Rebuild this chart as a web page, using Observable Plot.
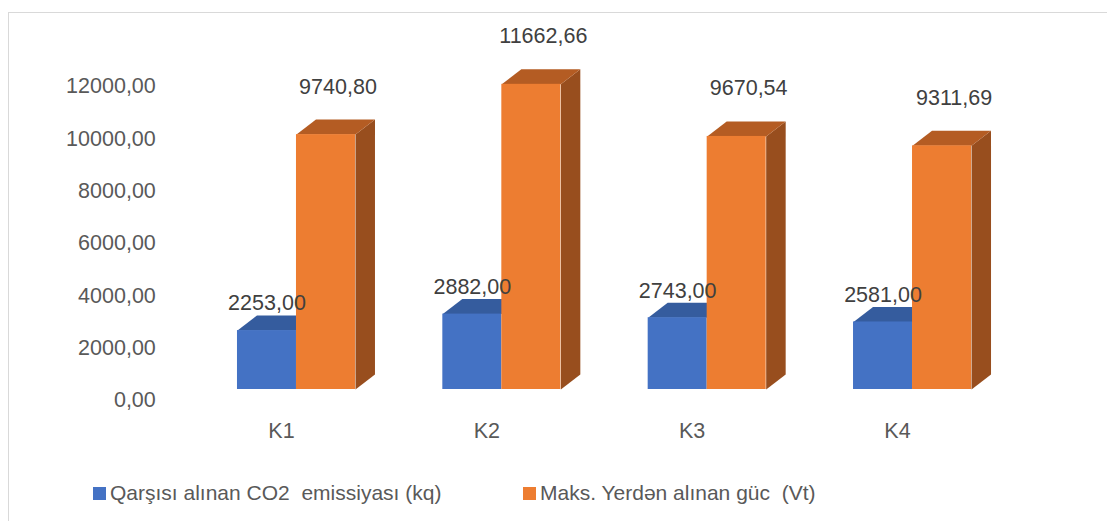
<!DOCTYPE html>
<html><head><meta charset="utf-8">
<script src="https://cdn.jsdelivr.net/npm/d3@7"></script>
<script src="https://cdn.jsdelivr.net/npm/@observablehq/plot@0.6"></script>
<style>
body{margin:0;background:#fff;font-family:"Liberation Sans",Arial,sans-serif;overflow:hidden;}
#frame{position:absolute;left:8px;top:12px;width:1130px;height:540px;border:1px solid #d9d9d9;box-sizing:border-box;}
#chart{position:absolute;left:0;top:0;}
.leg{position:absolute;top:480px;height:26px;display:flex;align-items:center;font-size:21px;color:#595959;white-space:pre;}
.sw{width:13px;height:13px;margin-right:4px;}
</style></head>
<body>
<div id="frame"></div>
<div id="chart"></div>
<div class="leg" style="left:93px"><span class="sw" style="background:#4472C4"></span><span id="l1"></span></div>
<div class="leg" style="left:523px"><span class="sw" style="background:#ED7D31"></span><span id="l2"></span></div>
<script>
const categories = ["K1", "K2", "K3", "K4"];
const seriesNames = ["Qarşısı alınan CO2  emissiyası (kq)", "Maks. Yerdən alınan güc  (Vt)"];
const co2 = [2253.00, 2882.00, 2743.00, 2581.00];
const power = [9740.80, 11662.66, 9670.54, 9311.69];
const yTicks = [0, 2000, 4000, 6000, 8000, 10000, 12000];

document.getElementById("l1").textContent = seriesNames[0];
document.getElementById("l2").textContent = seriesNames[1];

const W = 1107, H = 470, mL = 193.3, mR = 92.3, mT = 75, mB = 81;
const pxX = (W - mL - mR) / 4;           // px per category unit
const pxY = (H - mB - mT) / 12000;        // px per value unit
const half = 59 / pxX;                    // bar width in x units
const DX = 19.5 / pxX, DY = 15 / pxY;     // 3D depth offsets

const fmt = v => v.toFixed(2).replace(".", ",");

const bars = [];
categories.forEach((c, i) => {
  bars.push({s: 0, i, x1: i - half, x2: i, v: co2[i]});
  bars.push({s: 1, i, x1: i, x2: i + half, v: power[i]});
});
function topFace(b, id) {
  return [
    {id, x: b.x1, y: b.v}, {id, x: b.x2, y: b.v},
    {id, x: b.x2 + DX, y: b.v + DY}, {id, x: b.x1 + DX, y: b.v + DY}
  ];
}
function sideFace(b, id) {
  return [
    {id, x: b.x2, y: 0}, {id, x: b.x2, y: b.v},
    {id, x: b.x2 + DX, y: b.v + DY}, {id, x: b.x2 + DX, y: DY}
  ];
}
const blue = bars.filter(b => b.s === 0), orange = bars.filter(b => b.s === 1);
const blueTops = blue.flatMap((b, k) => topFace(b, "bt" + k));
const orangeTops = orange.flatMap((b, k) => topFace(b, "ot" + k));
const orangeSides = orange.flatMap((b, k) => sideFace(b, "os" + k));

const plot = Plot.plot({
  width: W, height: H,
  marginLeft: mL, marginRight: mR, marginTop: mT, marginBottom: mB,
  style: {fontFamily: "'Liberation Sans', Arial, sans-serif", fontSize: "21.5px", color: "#595959", background: "transparent"},
  x: {type: "linear", domain: [-0.5, 3.5], axis: null},
  y: {domain: [0, 12000], axis: null},
  marks: [
    Plot.line(blueTops, {x: "x", y: "y", z: "id", fill: "#355C9E", stroke: "none"}),
    Plot.rectY(blue, {x1: "x1", x2: "x2", y1: 0, y2: "v", fill: "#4472C4"}),
    Plot.line(orangeSides, {x: "x", y: "y", z: "id", fill: "#984E1E", stroke: "none"}),
    Plot.line(orangeTops, {x: "x", y: "y", z: "id", fill: "#B45C23", stroke: "none"}),
    Plot.rectY(orange, {x1: "x1", x2: "x2", y1: 0, y2: "v", fill: "#ED7D31"}),
    Plot.text(blue, {x: d => (d.x1 + d.x2) / 2, y: "v", text: d => fmt(d.v), dy: -27, fill: "#404040", fontSize: 21.5}),
    Plot.text(orange, {x: d => (d.x1 + d.x2) / 2, y: "v", text: d => fmt(d.v), dx: 12, dy: -48, fill: "#404040", fontSize: 21.5}),
    Plot.axisY(yTicks, {tickSize: 0, tickPadding: 38, dy: 11, tickFormat: fmt, fill: "#595959", fontSize: 21.5}),
    Plot.text(categories, {x: (d, i) => i, y: 0, text: d => d, dx: -15, dy: 42, fill: "#595959", fontSize: 21.5})
  ]
});
document.getElementById("chart").appendChild(plot);
</script>
</body></html>
